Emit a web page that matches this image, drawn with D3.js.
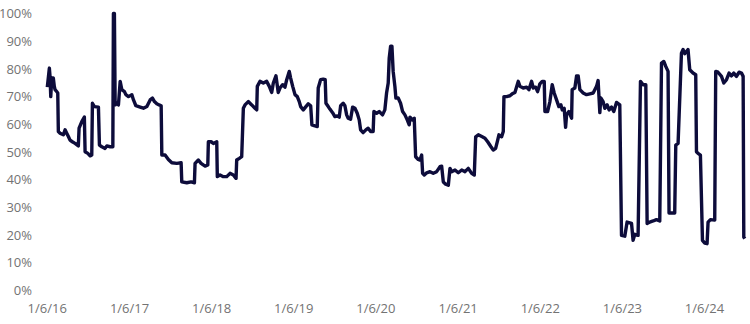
<!DOCTYPE html>
<html>
<head>
<meta charset="utf-8">
<script src="https://cdn.jsdelivr.net/npm/d3@7"></script>
<style>
  html, body { margin: 0; padding: 0; background: #fff; }
  svg { display: block; }
  text { font-family: "Open Sans", sans-serif; font-size: 13px; fill: #737373; }
</style>
</head>
<body>
<svg id="chart" width="750" height="324"></svg>
<script>
// Decimal years (calendar)
const dates = [
2016.021,2016.046,2016.054,2016.063,2016.075,2016.094,2016.106,2016.115,2016.136,2016.148,
2016.155,2016.176,2016.216,2016.237,2016.257,2016.277,2016.297,2016.325,2016.358,2016.398,
2016.407,2016.440,2016.471,2016.480,2016.513,2016.541,2016.561,2016.569,2016.593,2016.642,
2016.654,2016.683,2016.723,2016.744,2016.784,2016.817,2016.824,2016.836,2016.845,2016.866,
2016.885,2016.906,2016.926,2016.958,2016.975,2017.007,2017.048,2017.068,2017.097,2017.149,
2017.189,2017.231,2017.271,2017.299,2017.323,2017.352,2017.380,2017.405,2017.413,2017.453,
2017.493,2017.535,2017.596,2017.648,2017.656,2017.717,2017.769,2017.810,2017.818,2017.858,
2017.891,2017.940,2017.973,2017.980,2018.013,2018.041,2018.082,2018.089,2018.122,2018.162,
2018.204,2018.244,2018.284,2018.317,2018.325,2018.357,2018.386,2018.406,2018.426,2018.466,
2018.508,2018.548,2018.569,2018.576,2018.609,2018.649,2018.690,2018.722,2018.751,2018.771,
2018.803,2018.831,2018.852,2018.885,2018.913,2018.934,2018.965,2018.982,2019.007,2019.035,
2019.063,2019.087,2019.104,2019.136,2019.168,2019.196,2019.226,2019.241,2019.278,2019.306,
2019.318,2019.347,2019.379,2019.403,2019.412,2019.440,2019.460,2019.493,2019.521,2019.549,
2019.574,2019.591,2019.622,2019.643,2019.664,2019.683,2019.712,2019.737,2019.765,2019.793,
2019.817,2019.834,2019.865,2019.898,2019.926,2019.956,2019.987,2019.996,2020.029,2020.060,
2020.101,2020.129,2020.150,2020.170,2020.182,2020.199,2020.215,2020.230,2020.251,2020.263,
2020.291,2020.320,2020.345,2020.373,2020.401,2020.425,2020.434,2020.462,2020.486,2020.503,
2020.535,2020.555,2020.576,2020.588,2020.608,2020.637,2020.677,2020.717,2020.758,2020.799,
2020.819,2020.839,2020.868,2020.900,2020.920,2020.941,2020.981,2021.021,2021.063,2021.103,
2021.143,2021.184,2021.216,2021.233,2021.265,2021.313,2021.346,2021.379,2021.419,2021.447,
2021.476,2021.501,2021.516,2021.549,2021.569,2021.577,2021.610,2021.650,2021.678,2021.711,
2021.751,2021.772,2021.812,2021.853,2021.881,2021.914,2021.934,2021.963,2021.987,2022.015,
2022.043,2022.068,2022.076,2022.109,2022.137,2022.165,2022.189,2022.218,2022.246,2022.271,
2022.287,2022.311,2022.328,2022.340,2022.368,2022.401,2022.408,2022.441,2022.462,2022.481,
2022.502,2022.542,2022.583,2022.623,2022.664,2022.705,2022.724,2022.745,2022.757,2022.785,
2022.806,2022.834,2022.858,2022.887,2022.915,2022.948,2022.988,2023.009,2023.049,2023.077,
2023.110,2023.131,2023.150,2023.171,2023.211,2023.240,2023.272,2023.305,2023.321,2023.353,
2023.394,2023.435,2023.475,2023.496,2023.524,2023.548,2023.576,2023.588,2023.630,2023.657,
2023.670,2023.698,2023.739,2023.759,2023.779,2023.800,2023.819,2023.840,2023.880,2023.913,
2023.922,2023.941,2023.970,2023.995,2024.023,2024.051,2024.063,2024.092,2024.144,2024.156,
2024.184,2024.226,2024.254,2024.287,2024.318,2024.347,2024.375,2024.408,2024.440,2024.469,
2024.489,2024.497,2024.509
];
// Percent values
const values = [
73.4,80.3,77.3,70.0,76.7,76.7,73.7,72.5,71.8,71.3,
57.4,56.8,56.2,58.0,56.8,55.6,54.3,53.7,53.1,52.2,
58.6,61.0,62.6,50.1,49.5,48.6,48.9,67.6,66.4,66.2,
52.5,51.9,51.3,52.2,51.9,51.9,100,100,67.0,67.6,
67.0,75.5,72.5,71.8,70.7,70.0,70.7,68.8,66.7,66.2,
65.8,66.4,68.8,69.5,68.2,67.4,67.0,66.7,48.9,48.9,
47.3,46.1,45.9,46.1,39.2,38.9,39.2,38.9,45.9,47.1,
45.9,44.9,45.3,53.7,53.7,53.1,53.7,41.1,41.7,41.1,
41.1,42.3,41.7,40.5,47.1,47.7,48.3,65.8,67.0,68.2,
67.0,65.8,65.2,73.7,75.5,74.9,75.5,73.7,71.5,74.9,
77.5,71.5,73.1,74.3,73.4,76.1,79.1,76.7,73.7,70.7,
70.0,68.2,66.4,65.2,66.4,67.4,66.7,59.8,59.4,59.2,
73.1,76.1,76.3,76.1,67.6,66.4,65.5,64.2,62.8,63.0,
62.6,66.7,67.6,66.7,63.4,62.2,61.8,66.2,65.8,64.0,
61.6,58.0,57.0,58.0,58.6,57.4,57.4,64.6,64.0,64.6,
63.4,65.2,71.3,74.9,83.9,88.2,88.2,79.1,73.7,69.5,
69.5,67.6,64.6,63.4,61.6,59.8,62.6,61.6,62.2,48.3,
47.3,47.1,48.9,42.3,41.7,42.5,42.9,42.3,42.9,44.7,
44.9,39.2,38.4,38.0,44.1,42.9,43.5,42.5,43.5,42.9,
44.1,42.3,41.7,55.5,56.2,55.5,55.0,53.7,51.9,50.7,
51.3,54.3,56.2,55.5,57.4,70.0,70.0,70.3,71.0,71.5,
75.5,73.7,73.1,73.4,72.5,75.5,73.1,73.4,71.8,74.6,
75.5,75.5,64.6,64.6,68.2,74.3,71.3,68.8,66.4,67.0,
65.2,65.8,58.9,63.4,64.6,62.2,72.5,73.1,77.5,77.5,
72.5,71.3,70.7,71.0,71.3,73.7,75.8,64.2,69.5,68.2,
65.8,67.0,65.2,66.2,64.6,67.9,67.0,19.9,19.6,24.7,
24.4,24.2,18.1,20.3,19.9,75.5,74.3,74.3,24.2,24.7,
25.1,25.6,25.1,82.1,82.7,80.9,79.1,28.0,28.0,28.0,
52.5,53.1,85.7,87.0,85.5,86.3,87.0,79.7,78.5,77.9,
50.1,49.5,48.9,18.1,17.1,16.9,24.7,25.6,25.4,79.1,
78.8,77.3,74.9,76.1,78.5,77.5,78.5,77.3,78.8,78.5,
77.3,19.3,18.7
];
const xTickLabels = ["2016-01-06","2017-01-06","2018-01-06","2019-01-06","2020-01-06","2021-01-06","2022-01-06","2023-01-06","2024-01-06"];
const yTicks = [0,10,20,30,40,50,60,70,80,90,100];

function decToDate(t) {
  const y = Math.floor(t);
  const start = new Date(y, 0, 1).getTime();
  const end = new Date(y + 1, 0, 1).getTime();
  return new Date(start + (t - y) * (end - start));
}
const parse = d3.timeParse("%Y-%m-%d");
const data = dates.map((d, i) => ({ date: decToDate(d), value: values[i] }));
const tickDates = xTickLabels.map(parse);

const svg = d3.select("#chart");
const x = d3.scaleTime().domain([tickDates[0], tickDates[tickDates.length - 1]]).range([46.7, 704]);
const y = d3.scaleLinear().domain([0, 100]).range([290.5, 13.5]);

// Y axis labels
const yAxis = d3.axisLeft(y).tickValues(yTicks).tickFormat(d => d + "%").tickSize(0).tickPadding(0);
const gy = svg.append("g").attr("transform", "translate(32,0)").call(yAxis);
gy.select(".domain").remove();
gy.selectAll("text").attr("fill", "#737373").style("font-family", '"Open Sans", sans-serif').style("font-size", "13px");

// X axis labels
const xAxis = d3.axisBottom(x).tickValues(tickDates).tickFormat(d3.timeFormat("%-m/%-d/%y")).tickSize(0).tickPadding(0);
const gx = svg.append("g").attr("transform", "translate(0,304)").call(xAxis);
gx.select(".domain").remove();
gx.selectAll("text").attr("fill", "#737373").style("font-family", '"Open Sans", sans-serif').style("font-size", "13px");

// Line
const line = d3.line().x(d => x(d.date)).y(d => y(d.value));
svg.append("path")
  .datum(data)
  .attr("d", line)
  .attr("fill", "none")
  .attr("stroke", "#0d0c3b")
  .attr("stroke-width", 3.4)
  .attr("stroke-linejoin", "round");
</script>
</body>
</html>
